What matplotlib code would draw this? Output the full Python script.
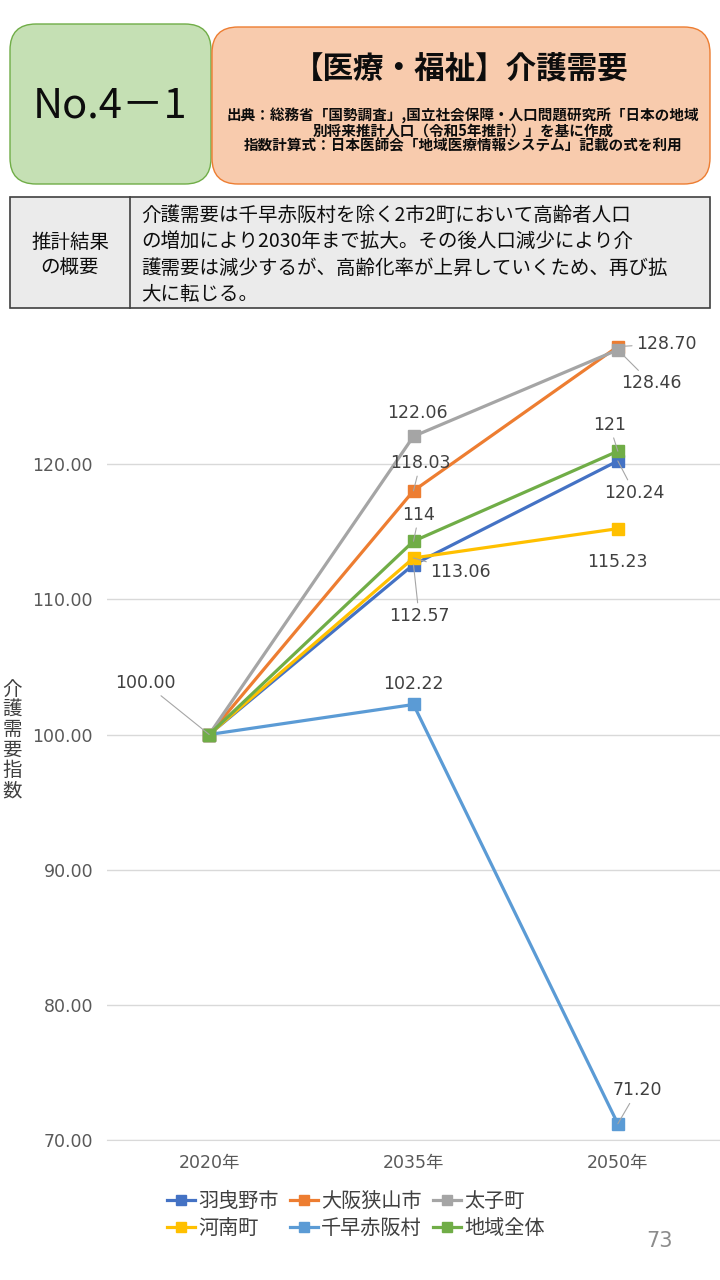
import matplotlib
matplotlib.use("Agg")
import matplotlib.pyplot as plt
from matplotlib.patches import FancyBboxPatch, Rectangle

plt.rcParams['font.family'] = ['Noto Sans CJK JP', 'DejaVu Sans']
NUM_FONT = ['DejaVu Sans', 'Noto Sans CJK JP']

# data
years = ['2020年', '2035年', '2050年']
habikino = [100.00, 112.57, 120.24]
osakasayama = [100.00, 118.03, 128.70]
taishi = [100.00, 122.06, 128.46]
kanan = [100.00, 113.06, 115.23]
chihaya = [100.00, 102.22, 71.20]
region = [100.00, 114.30, 120.96]

names = ['羽曳野市', '大阪狭山市', '太子町', '河南町', '千早赤阪村', '地域全体']
series = [habikino, osakasayama, taishi, kanan, chihaya, region]
colors = ['#4472C4', '#ED7D31', '#A5A5A5', '#FFC000', '#5B9BD5', '#70AD47']

# data labels: (series index, point index, text format, offset in points, leader line)
label_spec = [
    (5, 0, '{:.2f}', (-46, 37), True),
    (2, 1, '{:.2f}', (3, 17), False),
    (1, 1, '{:.2f}', (5, 20), True),
    (5, 1, '{:.0f}', (4, 19), True),
    (3, 1, '{:.2f}', (34, -10), True),
    (0, 1, '{:.2f}', (4, -37), True),
    (4, 1, '{:.2f}', (0, 15), False),
    (1, 2, '{:.2f}', (35, 2), True),
    (2, 2, '{:.2f}', (24, -24), True),
    (5, 2, '{:.0f}', (-6, 19), True),
    (0, 2, '{:.2f}', (12, -23), True),
    (3, 2, '{:.2f}', (0, -24), False),
    (4, 2, '{:.2f}', (14, 24), True),
]

summary_lines = [
    '介護需要は千早赤阪村を除く2市2町において高齢者人口',
    'の増加により2030年まで拡大。その後人口減少により介',
    '護需要は減少するが、高齢化率が上昇していくため、再び拡',
    '大に転じる。',
]

fig = plt.figure(figsize=(7.2, 12.8), dpi=100)

# overlay in pixel units for header / table
bg = fig.add_axes([0, 0, 1, 1])
bg.set_xlim(0, 720)
bg.set_ylim(1280, 0)
bg.axis('off')

bg.add_patch(FancyBboxPatch((10, 24), 201, 160, boxstyle='round,pad=0,rounding_size=26',
                            fc='#C5E0B4', ec='#70AD47', lw=1))
bg.add_patch(FancyBboxPatch((212, 27), 498, 157, boxstyle='round,pad=0,rounding_size=26',
                            fc='#F8CBAD', ec='#ED7D31', lw=1))
bg.text(110, 106, 'No.4－1', fontsize=30, ha='center', va='center', color='#0D0D0D')
bg.text(461, 70, '【医療・福祉】介護需要', fontsize=22, fontweight='bold',
        ha='center', va='center', color='#0D0D0D')
sub = ['出典：総務省「国勢調査」,国立社会保障・人口問題研究所「日本の地域',
       '別将来推計人口（令和5年推計）」を基に作成',
       '指数計算式：日本医師会「地域医療情報システム」記載の式を利用']
for i, s in enumerate(sub):
    bg.text(463, 116 + 14.5 * i, s, fontsize=10.5, fontweight='bold',
            ha='center', va='center', color='#0D0D0D')

bg.add_patch(Rectangle((10, 197), 700, 111, fc='#EBEBEB', ec='#404040', lw=1.2))
bg.plot([130, 130], [197, 308], color='#404040', lw=1.2)
bg.text(70, 255, '推計結果\nの概要', fontsize=14, ha='center', va='center',
        linespacing=1.2, color='#0D0D0D')
for i, s in enumerate(summary_lines):
    bg.text(141, 215 + 26.5 * i, s, fontsize=14, ha='left', va='center', color='#0D0D0D')

bg.text(12, 740, '\n'.join('介護需要指数'), fontsize=14, ha='center', va='center',
        linespacing=0.95, color='#404040')
bg.text(660, 1241, '73', fontsize=15, ha='center', va='center', color='#8C8C8C',
        family=NUM_FONT)

# chart
ax = fig.add_axes([107 / 720, 1 - 1140 / 1280, 613 / 720, 811 / 1280])
x = list(range(len(years)))
lines = []
for name, vals, c in zip(names, series, colors):
    ln, = ax.plot(x, vals, color=c, lw=2.3, marker='s', markersize=9, label=name)
    lines.append(ln)

for si, pi, fmt, off, leader in label_spec:
    arrow = dict(arrowstyle='-', color='#A6A6A6', lw=0.8, shrinkA=1, shrinkB=0) if leader else None
    ax.annotate(fmt.format(series[si][pi]), xy=(x[pi], series[si][pi]), xytext=off,
                textcoords='offset points', ha='center', va='center',
                fontsize=12.5, color='#404040', arrowprops=arrow, family=NUM_FONT)

ax.set_xlim(-0.5, 2.5)
ax.set_ylim(70, 130)
yt = [70, 80, 90, 100, 110, 120]
ax.set_yticks(yt)
ax.set_yticklabels(['{:.2f}'.format(v) for v in yt], family=NUM_FONT)
ax.set_xticks(x)
ax.set_xticklabels(years, family=NUM_FONT)
ax.tick_params(length=0, labelsize=12.5, labelcolor='#595959', pad=10)
ax.grid(axis='y', color='#D9D9D9', lw=1)
ax.set_axisbelow(True)
for sp in ['top', 'right', 'left']:
    ax.spines[sp].set_visible(False)
ax.spines['bottom'].set_color('#D9D9D9')
ax.patch.set_alpha(0)

# legend filled column-wise, so reorder to read row-wise like the original
order = [0, 3, 1, 4, 2, 5]
fig.legend([lines[i] for i in order], [names[i] for i in order],
           loc='upper left', bbox_to_anchor=(157 / 720, 1 - 1181 / 1280), ncol=3,
           frameon=False, fontsize=14.5, handlelength=1.4, handletextpad=0.15,
           columnspacing=0.55, labelspacing=0.3, markerscale=0.75, borderpad=0,
           labelcolor='#404040')

fig.savefig('out.png', dpi=100)
